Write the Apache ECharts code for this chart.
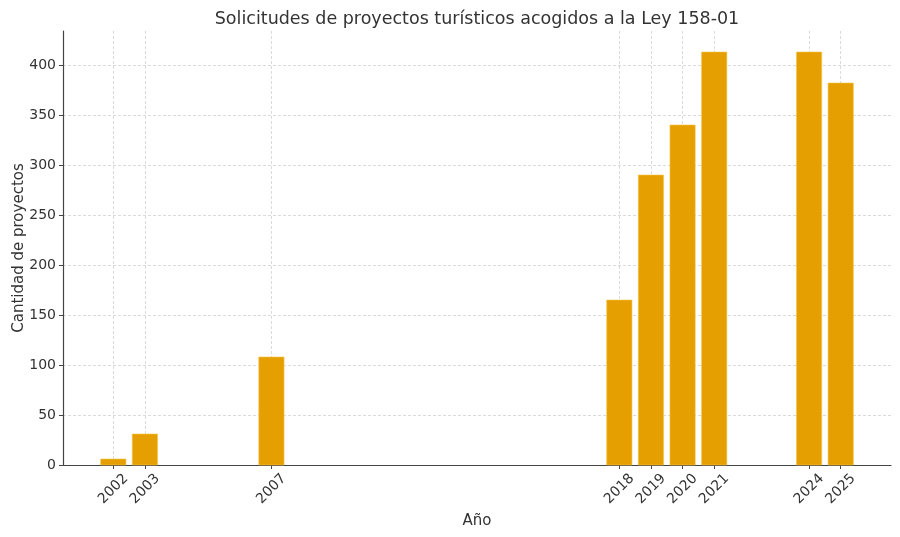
<!DOCTYPE html>
<html>
<head>
<meta charset="utf-8">
<script src="https://cdn.jsdelivr.net/npm/echarts@6/dist/echarts.min.js"></script>
<style>
html,body{margin:0;padding:0;background:#fff;}
#chart{width:900px;height:537px;}
</style>
</head>
<body>
<div id="chart"></div>
<script>
const chartTitle = 'Solicitudes de proyectos turísticos acogidos a la Ley 158-01';
const xName = 'Año';
const yName = 'Cantidad de proyectos';
const years = [2002, 2003, 2007, 2018, 2019, 2020, 2021, 2024, 2025];
const counts = [6, 31, 108, 165, 290, 340, 413, 413, 382];
const yTicks = [0, 50, 100, 150, 200, 250, 300, 350, 400];

const FONT = 'DejaVu Sans';
const TXT = '#333333';
const BAR_W = 0.8;

const chart = echarts.init(document.getElementById('chart'), null, {renderer: 'canvas'});
chart.setOption({
  backgroundColor: '#ffffff',
  animation: false,
  title: {
    text: chartTitle,
    left: 472, top: 5, textAlign: 'center',
    textStyle: {fontFamily: FONT, fontSize: 17.5, fontWeight: 'normal', color: TXT}
  },
  grid: {left: 63, right: 9, top: 31, bottom: 72, containLabel: false, outerBoundsMode: 'none'},
  xAxis: {
    type: 'value',
    min: 2000.41, max: 2026.59,
    name: xName, nameLocation: 'middle', nameGap: 49, nameMoveOverlap: false,
    nameTextStyle: {fontFamily: FONT, fontSize: 15, color: TXT},
    axisLine: {show: true, onZero: false, lineStyle: {color: '#444', width: 1.2}},
    axisTick: {show: true, length: 4, customValues: years, lineStyle: {color: '#444'}},
    axisLabel: {customValues: years, rotate: 45, align: 'center', verticalAlign: 'middle', margin: 24,
      fontFamily: FONT, fontSize: 14, color: TXT,
      formatter: v => String(Math.round(v))},
    splitLine: {show: true, lineStyle: {color: '#d0d0d0', type: [3, 2], width: 0.8}}
  },
  yAxis: {
    type: 'value',
    min: 0, max: 434,
    name: yName, nameLocation: 'middle', nameGap: 36, nameMoveOverlap: false,
    nameTextStyle: {fontFamily: FONT, fontSize: 15, color: TXT},
    axisLine: {show: true, lineStyle: {color: '#444', width: 1.2}},
    axisTick: {show: true, length: 4, customValues: yTicks, lineStyle: {color: '#444'}},
    axisLabel: {customValues: yTicks, margin: 7, fontFamily: FONT, fontSize: 14, color: TXT},
    splitLine: {show: true, lineStyle: {color: '#d0d0d0', type: [3, 2], width: 0.8}}
  },
  series: [{
    type: 'custom',
    data: years.map((y, i) => [y, counts[i]]),
    encode: {x: 0, y: 1},
    renderItem: function (params, api) {
      const x = api.value(0), v = api.value(1);
      const p0 = api.coord([x - BAR_W / 2, v]);
      const p1 = api.coord([x + BAR_W / 2, 0]);
      return {
        type: 'rect',
        shape: {x: p0[0], y: p0[1], width: p1[0] - p0[0], height: p1[1] - p0[1]},
        style: {fill: '#E69F00', stroke: '#f2c84b', lineWidth: 0.6}
      };
    }
  }]
});
</script>
</body>
</html>
